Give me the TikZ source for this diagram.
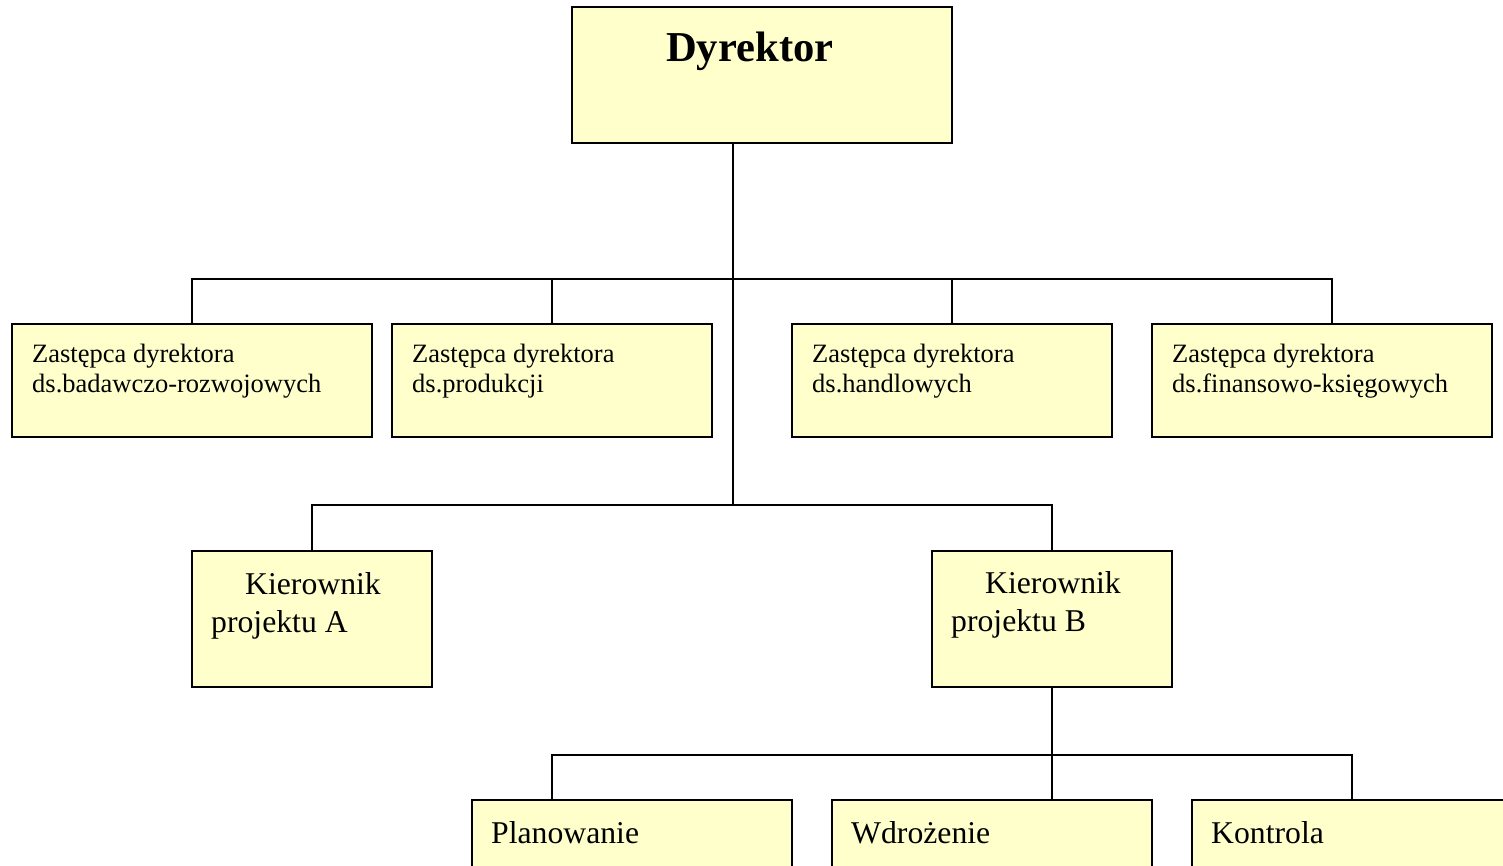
\documentclass[tikz,border=0pt]{standalone}
\usepackage{fontspec}
\setmainfont{Liberation Serif}
\definecolor{boxfill}{HTML}{FFFFCC}
\tikzset{
  orgbox/.style={draw=black, fill=boxfill, line width=1.5pt, rectangle, anchor=north west, inner sep=0pt, outer sep=0pt},
  conn/.style={draw=black, line width=1.5pt},
  small/.style={anchor=base west, inner sep=0pt, font=\fontsize{26.5}{31}\selectfont},
  mid/.style={anchor=base west, inner sep=0pt, font=\fontsize{31.7}{38}\selectfont},
}
\begin{document}
\begin{tikzpicture}[x=1pt,y=-1pt]
\clip (0,0) rectangle (1503,865);
\fill[white] (0,0) rectangle (1503,865);
% boxes
\node[orgbox, minimum width=380pt, minimum height=136pt] (dyr) at (572,7) {};
\node[orgbox, minimum width=360pt, minimum height=113pt] (z1) at (12,324) {};
\node[orgbox, minimum width=320pt, minimum height=113pt] (z2) at (392,324) {};
\node[orgbox, minimum width=320pt, minimum height=113pt] (z3) at (792,324) {};
\node[orgbox, minimum width=340pt, minimum height=113pt] (z4) at (1152,324) {};
\node[orgbox, minimum width=240pt, minimum height=136pt] (ka) at (192,551) {};
\node[orgbox, minimum width=240pt, minimum height=136pt] (kb) at (932,551) {};
\node[orgbox, minimum width=320pt, minimum height=120pt] (pl) at (472,800) {};
\node[orgbox, minimum width=320pt, minimum height=120pt] (wd) at (832,800) {};
\node[orgbox, minimum width=320pt, minimum height=120pt] (ko) at (1192,800) {};
% texts
\node[anchor=base west, inner sep=0pt, font=\fontsize{42.6}{50}\selectfont\bfseries] (tdyr) at (666,61) {Dyrektor};
\node[small] (tz1a) at (32,362) {Zastępca dyrektora};
\node[small] (tz1b) at (32,392) {ds.badawczo-rozwojowych};
\node[small] (tz2a) at (412,362) {Zastępca dyrektora};
\node[small] (tz2b) at (412,392) {ds.produkcji};
\node[small] (tz3a) at (812,362) {Zastępca dyrektora};
\node[small] (tz3b) at (812,392) {ds.handlowych};
\node[small] (tz4a) at (1172,362) {Zastępca dyrektora};
\node[small] (tz4b) at (1172,392) {ds.finansowo-księgowych};
\node[mid] (tkaa) at (245,594) {Kierownik};
\node[mid] (tkab) at (211,632) {projektu A};
\node[mid] (tkba) at (985,593) {Kierownik};
\node[mid] (tkbb) at (951,631) {projektu B};
\node[mid] (tpl) at (491,843) {Planowanie};
\node[mid] (twd) at (851,843) {Wdrożenie};
\node[mid] (tko) at (1211,843) {Kontrola};
% junction coordinates
\coordinate (t1) at (733,279);
\coordinate (t2) at (733,505);
\coordinate (t3) at (1052,755);
\coordinate (z4top) at (1332,324);
\coordinate (pltop) at (552,800);
% connectors
\draw[conn] (dyr.south -| t1) -- (t2);
\draw[conn] (z1.north) |- (t1) -| (z4top);
\draw[conn] (z2.north) -- (z2.north |- t1);
\draw[conn] (z3.north) -- (z3.north |- t1);
\draw[conn] (ka.north) |- (t2) -| (kb.north);
\draw[conn] (kb.south) -- (kb.south |- pltop);
\draw[conn] (pltop) |- (t3) -| (ko.north);
\end{tikzpicture}
\end{document}
